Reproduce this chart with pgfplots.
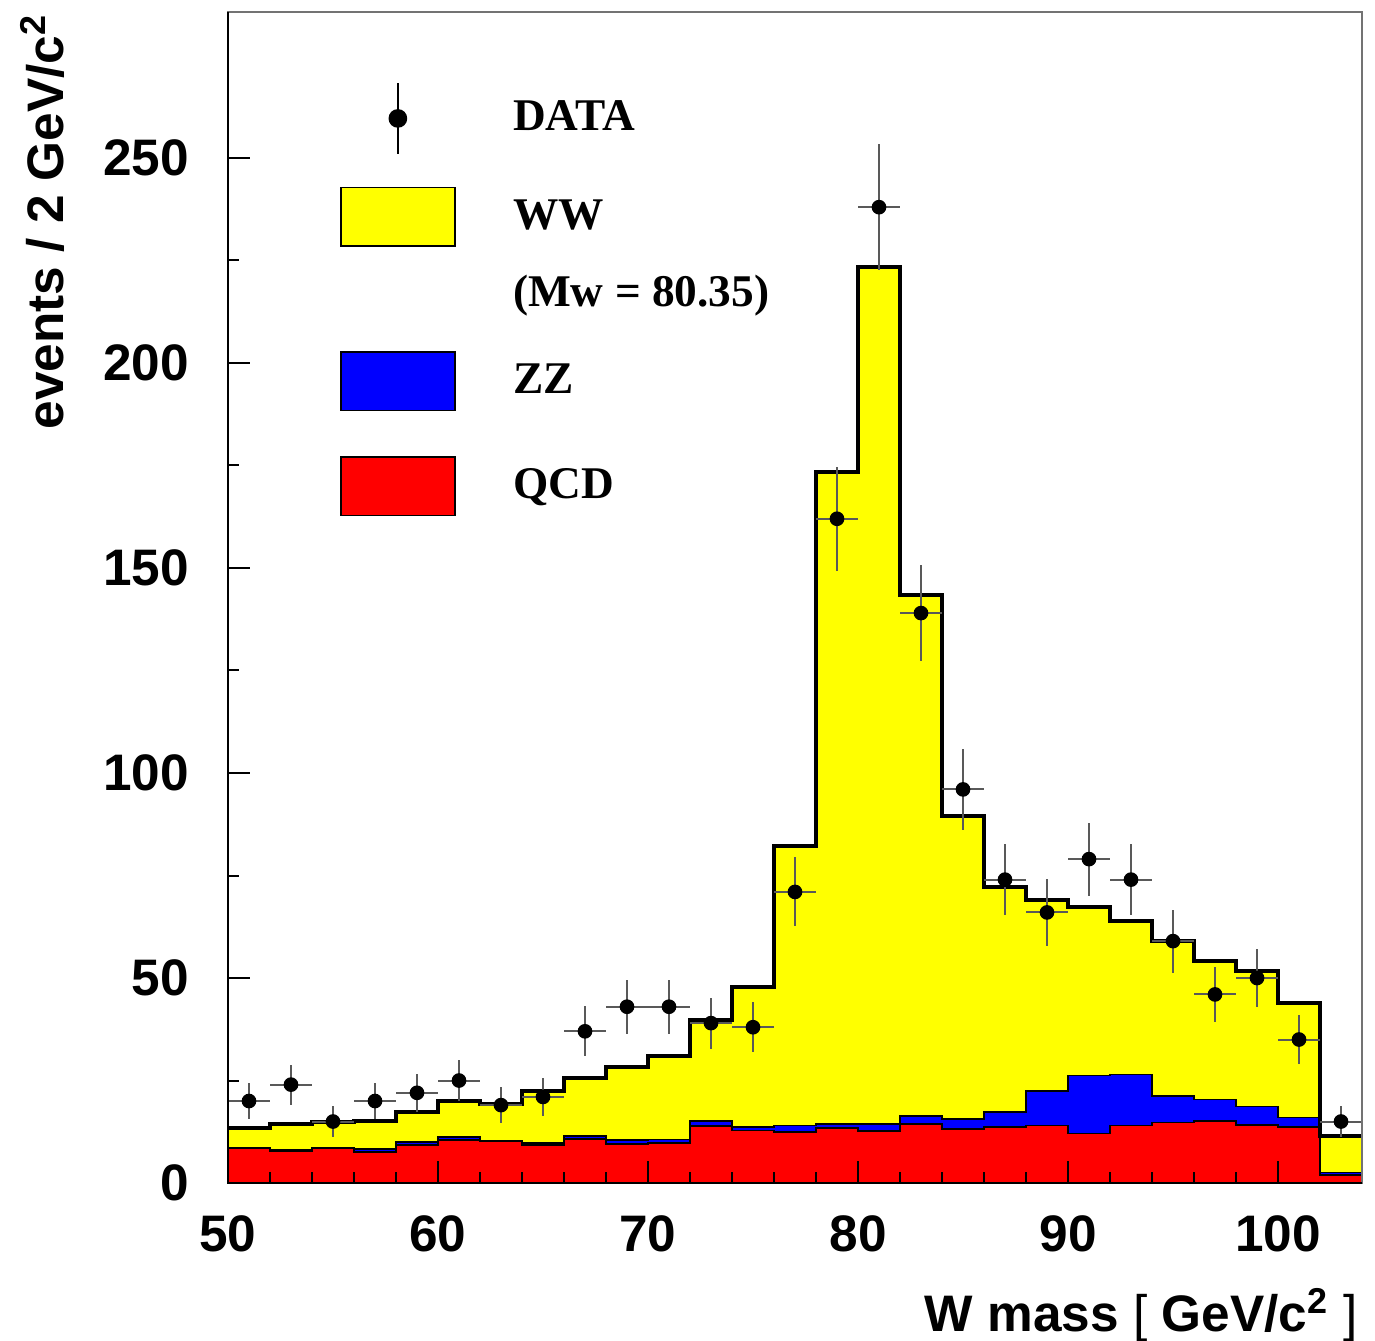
\documentclass[border=0pt]{standalone}
\usepackage{fontspec}
\setmainfont{Liberation Serif}
\setsansfont{Liberation Sans}
\usepackage{pgfplots}
\pgfplotsset{compat=1.18}
\usepackage{pgfplotstable}
\definecolor{wwyellow}{RGB}{255,255,0}
\definecolor{zzblue}{RGB}{0,0,255}
\definecolor{qcdred}{RGB}{255,0,0}

% stacked histogram tops (bin left edge, height); last row repeats final bin
\pgfplotstableread{
x y
50 13.4
52 14.3
54 14.9
56 15.2
58 17.4
60 20.1
62 19.3
64 22.5
66 25.6
68 28.4
70 31.1
72 39.8
74 47.9
76 82.3
78 173.3
80 223.5
82 143.3
84 89.4
86 72.3
88 69.1
90 67.3
92 63.9
94 59.1
96 54.1
98 51.6
100 43.9
102 11.5
104 11.5
}\tot

\pgfplotstableread{
x y
50 8.6
52 8.1
54 8.7
56 8.3
58 10.0
60 11.2
62 10.4
64 9.7
66 11.5
68 10.5
70 10.6
72 15.1
74 13.6
76 14.0
78 14.4
80 14.4
82 16.4
84 15.6
86 17.3
88 22.4
90 26.2
92 26.5
94 21.3
96 20.4
98 18.7
100 16.0
102 2.6
104 2.6
}\zzqcd

\pgfplotstableread{
x y
50 8.5
52 7.8
54 8.5
56 7.5
58 9.2
60 10.5
62 10.2
64 9.2
66 10.8
68 9.6
70 9.7
72 13.9
74 12.8
76 12.4
78 13.4
80 12.7
82 14.4
84 13.2
86 13.6
88 14.0
90 12.1
92 14.0
94 14.8
96 15.1
98 14.1
100 13.6
102 2.0
104 2.0
}\qcd

\pgfplotstableread{
x y ex ey
51 20 1 4.47
53 24 1 4.90
55 15 1 3.87
57 20 1 4.47
59 22 1 4.69
61 25 1 5.00
63 19 1 4.36
65 21 1 4.58
67 37 1 6.08
69 43 1 6.56
71 43 1 6.56
73 39 1 6.24
75 38 1 6.16
77 71 1 8.43
79 162 1 12.73
81 238 1 15.43
83 139 1 11.79
85 96 1 9.80
87 74 1 8.60
89 66 1 8.12
91 79 1 8.89
93 74 1 8.60
95 59 1 7.68
97 46 1 6.78
99 50 1 7.07
101 35 1 5.92
103 15 1 3.87
}\data

\begin{document}
\begin{tikzpicture}
\begin{axis}[
  scale only axis, width=340.2pt, height=351.3pt,
  xmin=50, xmax=104, ymin=0, ymax=285.6,
  axis on top,
  axis line style={draw=black!55, line width=0.6pt},
  xtick={50,60,...,100}, minor x tick num=4,
  ytick={0,50,...,250}, minor y tick num=1,
  tick pos=left, tick align=inside,
  major tick length=6.6pt, minor tick length=3.3pt,
  tick style={black, line width=0.6pt},
  /pgf/number format/assume math mode=true,
  tick label style={font=\fontsize{15.4}{18}\selectfont\sffamily\bfseries},
  xticklabel style={anchor=base, inner sep=0pt, yshift=-20.6pt},
  yticklabel style={anchor=east, inner sep=0pt, xshift=-11.6pt},
  label style={font=\fontsize{15.4}{18}\selectfont\sffamily\bfseries},
  xlabel={W mass {\mdseries[} GeV/c\textsuperscript{2} {\mdseries]}},
  xlabel style={at={(axis description cs:0.9965,-0.1265)}, anchor=base east, inner sep=0pt},
  ylabel={events / 2 GeV/c\textsuperscript{2}},
  ylabel style={at={(axis description cs:-0.1455,0.999)}, anchor=base east, inner sep=0pt},
  legend style={at={(axis description cs:0.0988,0.94)}, anchor=north west,
    draw=none, fill=none, inner sep=0pt, outer sep=0pt,
    row sep=0pt, column sep=17.2pt,
    nodes={inner sep=0pt},
    font=\fontsize{13.6}{16}\selectfont\rmfamily\bfseries},
  legend cell align=left,
]
% stacked histograms
\addplot[const plot, fill=wwyellow, draw=none, forget plot] table[x=x,y=y] {\tot} \closedcycle;
\addplot[const plot, fill=zzblue, draw=black, line width=0.5pt, forget plot] table[x=x,y=y] {\zzqcd} \closedcycle;
\addplot[const plot, fill=qcdred, draw=black, line width=0.5pt, forget plot] table[x=x,y=y] {\qcd} \closedcycle;
\addplot[const plot, draw=black, line width=1.2pt, forget plot] table[x=x,y=y] {\tot};
% data
\addplot[only marks, mark=*, mark size=2pt, black, forget plot,
  error bars/.cd, x dir=both, x explicit, y dir=both, y explicit,
  error mark=none, error bar style={black!65, line width=0.6pt}]
  table[x=x, y=y, x error=ex, y error=ey] {\data};

% legend
\addlegendimage{legend image code/.code={
  \path[draw=none, fill=none] (0pt,-20.45pt) rectangle (34.2pt,10.6pt);
  \draw[black, line width=0.5pt] (17.1pt,-10.6pt) -- (17.1pt,10.6pt);
  \fill[black] (17.1pt,0pt) circle (2.6pt);}}
\addlegendentry{DATA}
\addlegendimage{legend image code/.code={
  \draw[fill=wwyellow, draw=black, line width=0.5pt] (0pt,-8.8pt) rectangle (34.2pt,8.8pt);}}
\addlegendentry{WW}
\addlegendimage{legend image code/.code={
  \path[draw=none, fill=none] (0pt,-17.3pt) rectangle (34.2pt,13.95pt);}}
\addlegendentry{(Mw = 80.35)}
\addlegendimage{legend image code/.code={
  \draw[fill=zzblue, draw=black, line width=0.5pt] (0pt,-8.8pt) rectangle (34.2pt,8.8pt);}}
\addlegendentry{ZZ}
\addlegendimage{legend image code/.code={
  \path[draw=none, fill=none] (0pt,-8.8pt) rectangle (34.2pt,22.45pt);
  \draw[fill=qcdred, draw=black, line width=0.5pt] (0pt,-8.8pt) rectangle (34.2pt,8.8pt);}}
\addlegendentry{QCD}
\end{axis}
\draw[black, line width=0.6pt] (current axis.north west) -- (current axis.south west) -- (current axis.south east);
\pgfresetboundingbox
\path ([shift={(-68.4pt,-47.1pt)}]current axis.south west) rectangle ([shift={(3.9pt,3.6pt)}]current axis.north east);
\end{tikzpicture}
\end{document}
